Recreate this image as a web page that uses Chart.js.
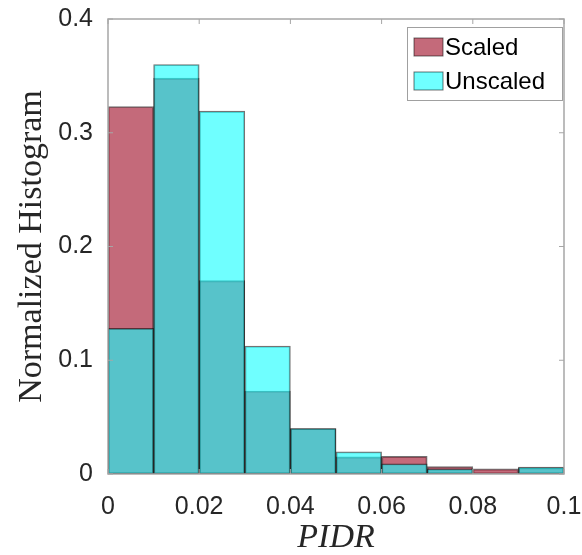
<!DOCTYPE html>
<html>
<head>
<meta charset="utf-8">
<script src="https://cdn.jsdelivr.net/npm/chart.js@4"></script>
<style>
    html, body { margin: 0; padding: 0; background: #fff; }
    #wrap { width: 582px; height: 555px; }
</style>
</head>
<body>
<div id="wrap"><canvas id="histChart" width="582" height="555"></canvas></div>
<script>
// bin centres (bin width 0.01, edges 0 .. 0.1)
const binCenters = [0.005, 0.015, 0.025, 0.035, 0.045, 0.055, 0.065, 0.075, 0.085, 0.095];
const scaledValues = [0.323, 0.348, 0.170, 0.073, 0.040, 0.015, 0.0155, 0.0065, 0.0045, 0.0055];
const unscaledValues = [0.128, 0.360, 0.319, 0.1125, 0.040, 0.0195, 0.009, 0.0045, 0, 0.006];
const xTicks = [0, 0.02, 0.04, 0.06, 0.08, 0.1];
const yTicks = [0, 0.1, 0.2, 0.3, 0.4];
const seriesNames = ["Scaled", "Unscaled"];

const scaledFill = "rgba(157, 7, 33, 0.6)";
const unscaledFill = "rgba(15, 255, 255, 0.6)";
const edgeColor = "rgba(0, 0, 0, 0.55)";
const frameColor = "#a6a6a6";
const textColor = "#262626";

function toPoints(values) {
    return values.map((v, i) => ({ x: binCenters[i], y: v }));
}

// axes box, inward ticks and the legend box (MATLAB look)
const frameAndLegend = {
    id: "frameAndLegend",
    afterDraw(chart) {
        const ctx = chart.ctx;
        const area = chart.chartArea;
        const xs = chart.scales.x;
        const ys = chart.scales.y;
        const tl = 5;

        ctx.save();
        ctx.strokeStyle = frameColor;
        ctx.lineWidth = 1.5;
        ctx.strokeRect(area.left, area.top, area.right - area.left, area.bottom - area.top);

        ctx.lineWidth = 1;
        ctx.beginPath();
        xTicks.forEach(t => {
            const px = xs.getPixelForValue(t);
            ctx.moveTo(px, area.bottom); ctx.lineTo(px, area.bottom - tl);
            ctx.moveTo(px, area.top); ctx.lineTo(px, area.top + tl);
        });
        yTicks.forEach(t => {
            const py = ys.getPixelForValue(t);
            ctx.moveTo(area.left, py); ctx.lineTo(area.left + tl, py);
            ctx.moveTo(area.right, py); ctx.lineTo(area.right - tl, py);
        });
        ctx.stroke();

        // legend
        const boxW = 155, boxH = 73;
        const bx = area.right - 2 - boxW;
        const by = area.top + 8;
        ctx.fillStyle = "#fff";
        ctx.fillRect(bx, by, boxW, boxH);
        ctx.strokeStyle = "#a0a0a0";
        ctx.lineWidth = 1;
        ctx.strokeRect(bx + 0.5, by + 0.5, boxW, boxH);

        const fills = [scaledFill, unscaledFill];
        ctx.font = "24px 'Liberation Sans', Arial, sans-serif";
        ctx.textBaseline = "middle";
        ctx.textAlign = "left";
        seriesNames.forEach((name, i) => {
            const sy = by + 11 + i * 34;
            ctx.fillStyle = fills[i];
            ctx.fillRect(bx + 7, sy, 29, 18);
            ctx.strokeStyle = "rgba(0,0,0,0.55)";
            ctx.strokeRect(bx + 7, sy, 29, 18);
            ctx.fillStyle = "#000";
            ctx.fillText(name, bx + 38, sy + 10);
        });
        ctx.restore();
    }
};

new Chart(document.getElementById("histChart"), {
    type: "bar",
    data: {
        datasets: [
            {
                label: seriesNames[0],
                data: toPoints(scaledValues),
                backgroundColor: scaledFill,
                borderColor: edgeColor,
                borderWidth: 1.2,
                borderSkipped: false,
                grouped: false,
                barPercentage: 1,
                categoryPercentage: 1,
                order: 1
            },
            {
                label: seriesNames[1],
                data: toPoints(unscaledValues),
                backgroundColor: unscaledFill,
                borderColor: edgeColor,
                borderWidth: 1.2,
                borderSkipped: false,
                grouped: false,
                barPercentage: 1,
                categoryPercentage: 1,
                order: 0
            }
        ]
    },
    options: {
        responsive: false,
        animation: false,
        devicePixelRatio: 1,
        layout: { padding: { top: 19, right: 18, left: 0, bottom: 0 } },
        plugins: {
            legend: { display: false },
            tooltip: { enabled: false }
        },
        scales: {
            x: {
                type: "linear",
                min: 0,
                max: 0.1,
                offset: false,
                afterBuildTicks: scale => { scale.ticks = xTicks.map(v => ({ value: v })); },
                afterFit: scale => {
                    scale.height = 81;
                    scale.paddingLeft = 0;
                    scale.paddingRight = 0;
                },
                grid: { display: false },
                border: { display: false },
                ticks: {
                    padding: 10,
                    color: textColor,
                    maxRotation: 0,
                    font: { family: "'Liberation Sans', Arial, sans-serif", size: 25 },
                    callback: v => String(+v.toFixed(2))
                },
                title: {
                    display: true,
                    text: "PIDR",
                    color: textColor,
                    padding: 0,
                    font: { family: "'Liberation Serif', 'Times New Roman', serif", size: 34, style: "italic", lineHeight: 1 }
                }
            },
            y: {
                min: 0,
                max: 0.4,
                afterBuildTicks: scale => { scale.ticks = yTicks.map(v => ({ value: v })); },
                afterFit: scale => {
                    scale.width = 108;
                    scale.paddingTop = 0;
                    scale.paddingBottom = 0;
                },
                grid: { display: false },
                border: { display: false },
                ticks: {
                    padding: 7,
                    color: textColor,
                    font: { family: "'Liberation Sans', Arial, sans-serif", size: 25 },
                    callback: v => String(+v.toFixed(2))
                },
                title: {
                    display: true,
                    text: "Normalized Histogram",
                    color: textColor,
                    padding: { top: 15 },
                    font: { family: "'Liberation Serif', 'Times New Roman', serif", size: 34, lineHeight: 1 }
                }
            }
        }
    },
    plugins: [frameAndLegend]
});
</script>
</body>
</html>
